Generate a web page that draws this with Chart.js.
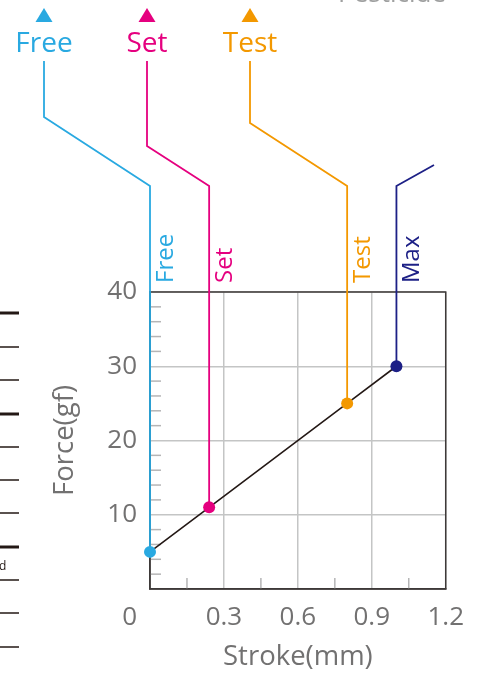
<!DOCTYPE html>
<html>
<head>
<meta charset="utf-8">
<script src="https://cdn.jsdelivr.net/npm/chart.js@4"></script>
<style>
html,body{margin:0;padding:0;background:#fff;}
#wrap{width:477px;height:675px;position:relative;}
canvas{display:block;}
</style>
</head>
<body>
<div id="wrap"><canvas id="c" width="477" height="675" style="width:477px;height:675px"></canvas></div>
<script>
// ---- data ----
const pointNames = ['Free', 'Set', 'Test', 'Max'];
const strokeValues = [0, 0.24, 0.8, 1.0];
const forceValues = [5, 11, 25, 30];
const pointColors = ['#29a9e1', '#e5007f', '#f39800', '#1d2086'];
const xTickLabels = [0, 0.3, 0.6, 0.9, 1.2];
const yTickLabels = [10, 20, 30, 40];
const xMinorStep = 0.15;
const yMinorStep = 2;

const FONT = "'Open Sans', 'Noto Sans', sans-serif";
const GREY = '#727171';
const GRID = '#c4c5c5';
const BORDER = '#3e3a39';

const isXMajor = v => xTickLabels.some(t => Math.abs(t - v) < 1e-6);
const isYMajor = v => yTickLabels.some(t => Math.abs(t - v) < 1e-6) || Math.abs(v) < 1e-6;

const decorPlugin = {
  id: 'decor',
  beforeDatasetsDraw(chart) {
    const ctx = chart.ctx;
    const a = chart.chartArea;
    const xs = chart.scales.x, ys = chart.scales.y;
    ctx.save();
    // minor ticks (inside)
    ctx.strokeStyle = '#b5b5b6';
    ctx.lineWidth = 1.5;
    ys.ticks.forEach(t => {
      if (!isYMajor(t.value)) {
        const p = ys.getPixelForValue(t.value);
        ctx.beginPath(); ctx.moveTo(a.left, p); ctx.lineTo(a.left + 11, p); ctx.stroke();
      }
    });
    xs.ticks.forEach(t => {
      if (!isXMajor(t.value)) {
        const p = xs.getPixelForValue(t.value);
        ctx.beginPath(); ctx.moveTo(p, a.bottom); ctx.lineTo(p, a.bottom - 11); ctx.stroke();
      }
    });
    // frame
    ctx.strokeStyle = BORDER;
    ctx.lineWidth = 1.5;
    ctx.strokeRect(a.left, a.top, a.right - a.left, a.bottom - a.top);

    // "0" corner label
    ctx.fillStyle = GREY;
    ctx.font = '26px ' + FONT;
    ctx.textAlign = 'right';
    ctx.textBaseline = 'middle';
    ctx.fillText('0', ys.right - 13, xs.top + 13 + 15.6);

    // leaders
    const bendY = 186;
    const tops = [[44, 117], [147, 146], [250, 123], [434, 165]];
    ctx.lineWidth = 1.8;
    pointNames.forEach((name, i) => {
      const px = xs.getPixelForValue(strokeValues[i]);
      const py = ys.getPixelForValue(forceValues[i]);
      ctx.strokeStyle = pointColors[i];
      ctx.beginPath();
      ctx.moveTo(px, py);
      ctx.lineTo(px, bendY);
      ctx.lineTo(tops[i][0], tops[i][1]);
      if (i < 3) ctx.lineTo(tops[i][0], 61);
      ctx.stroke();
      // rotated label
      ctx.save();
      ctx.translate(px + 23, 283);
      ctx.rotate(-Math.PI / 2);
      ctx.fillStyle = pointColors[i];
      ctx.font = '24px ' + FONT;
      ctx.textAlign = 'left';
      ctx.textBaseline = 'alphabetic';
      ctx.fillText(name, 0, 0);
      ctx.restore();
      if (i < 3) {
        const cx = tops[i][0];
        ctx.fillStyle = pointColors[i];
        ctx.font = '28px ' + FONT;
        ctx.textAlign = 'center';
        ctx.textBaseline = 'alphabetic';
        ctx.fillText(name, cx, 52);
        ctx.beginPath();
        ctx.moveTo(cx - 8.5, 22); ctx.lineTo(cx + 8.5, 22); ctx.lineTo(cx, 8); ctx.closePath();
        ctx.fill();
      }
    });

    // neighbouring page fragments
    ctx.strokeStyle = '#231815';
    const ruleYs = [313, 347, 380, 414, 447, 480, 513, 547, 580, 613, 647];
    const thick = [313, 414, 547];
    ruleYs.forEach(y => {
      ctx.lineWidth = thick.includes(y) ? 3 : 1.5;
      ctx.beginPath(); ctx.moveTo(0, y); ctx.lineTo(19, y); ctx.stroke();
    });
    ctx.fillStyle = '#231815';
    ctx.font = '12px ' + FONT;
    ctx.textAlign = 'left';
    ctx.textBaseline = 'alphabetic';
    ctx.fillText('d', -1, 570);
    ctx.fillStyle = '#9fa0a0';
    ctx.font = '26px ' + FONT;
    ctx.fillText('Pesticide', 338, 2);
    ctx.restore();
  }
};

new Chart(document.getElementById('c'), {
  type: 'scatter',
  data: {
    datasets: [{
      data: strokeValues.map((x, i) => ({x: x, y: forceValues[i]})),
      showLine: true,
      borderColor: '#231815',
      borderWidth: 1.6,
      pointRadius: 6,
      pointHoverRadius: 6,
      pointBorderWidth: 0,
      pointBackgroundColor: pointColors,
      clip: false
    }]
  },
  options: {
    responsive: false,
    animation: false,
    layout: {padding: {left: 40, right: 31, top: 292, bottom: 0}},
    plugins: {legend: {display: false}, tooltip: {enabled: false}},
    scales: {
      x: {
        type: 'linear', min: 0, max: 1.2,
        afterFit(s) { s.height = 86; },
        ticks: {
          stepSize: xMinorStep, autoSkip: false, maxRotation: 0, padding: 13,
          color: GREY, font: {family: FONT, size: 26},
          callback: v => (isXMajor(v) && Math.abs(v) > 1e-6) ? String(Math.round(v * 10) / 10) : ''
        },
        grid: {
          drawTicks: false, lineWidth: 1.5,
          color: c => (c.tick && isXMajor(c.tick.value)) ? GRID : 'rgba(0,0,0,0)'
        },
        border: {display: true, color: BORDER, width: 1.5},
        title: {display: true, text: 'Stroke(mm)', color: GREY, font: {family: FONT, size: 27.5}, padding: {top: 0, bottom: 1}}
      },
      y: {
        type: 'linear', min: 0, max: 40,
        afterFit(s) { s.width = 110; },
        ticks: {
          stepSize: yMinorStep, autoSkip: false, padding: 13,
          color: GREY, font: {family: FONT, size: 26},
          callback: v => (yTickLabels.includes(v)) ? String(v) : ''
        },
        grid: {
          drawTicks: false, lineWidth: 1.5,
          color: c => (c.tick && c.tick.value % 10 === 0) ? GRID : 'rgba(0,0,0,0)'
        },
        border: {display: true, color: BORDER, width: 1.5},
        title: {display: true, text: 'Force(gf)', color: GREY, font: {family: FONT, size: 27.5}, padding: {top: 9, bottom: 0}}
      }
    }
  },
  plugins: [decorPlugin]
});
</script>
</body>
</html>
